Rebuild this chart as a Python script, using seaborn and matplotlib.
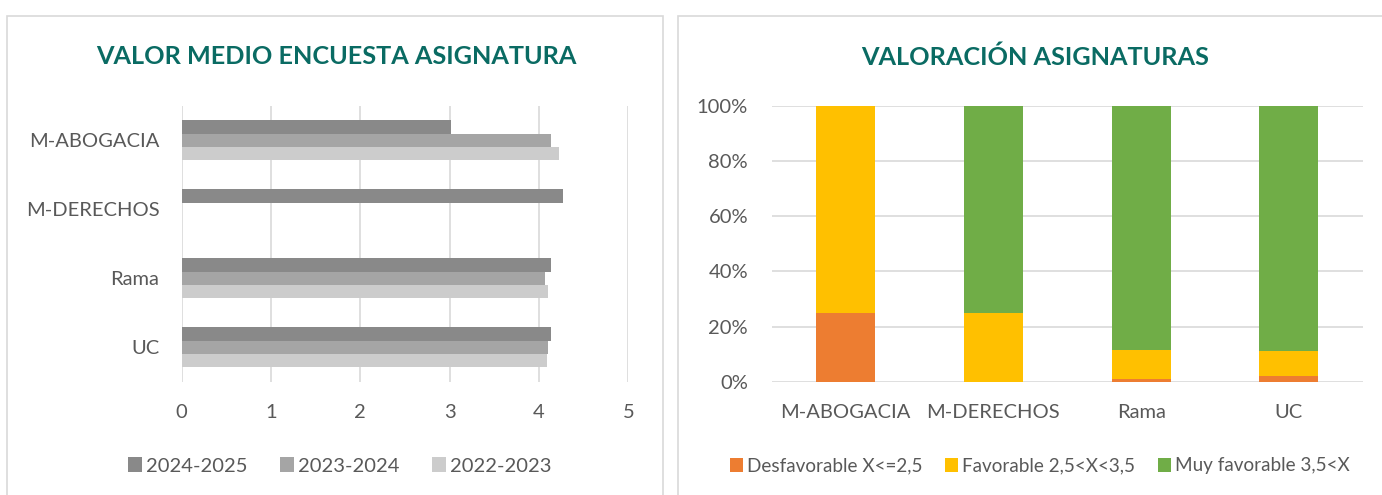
import numpy as np
import pandas as pd
import matplotlib
matplotlib.use("Agg")
import matplotlib.pyplot as plt
import seaborn as sns
from matplotlib.patches import Rectangle, Patch
from matplotlib.ticker import FuncFormatter

# ---------------- data ----------------
categories = ["M-ABOGACIA", "M-DERECHOS", "Rama", "UC"]
years = ["2024-2025", "2023-2024", "2022-2023"]
v_2024_2025 = [3.01, 4.27, 4.13, 4.13]
v_2023_2024 = [4.14, np.nan, 4.07, 4.10]
v_2022_2023 = [4.22, np.nan, 4.10, 4.09]
x_ticks = [0, 1, 2, 3, 4, 5]

ratings = ["Desfavorable X<=2,5", "Favorable 2,5<X<3,5", "Muy favorable 3,5<X"]
desfavorable = [25.0, 0.0, 0.9, 2.0]
favorable = [75.0, 25.0, 10.5, 9.0]
muy_favorable = [0.0, 75.0, 88.6, 89.0]
y_ticks = [0, 20, 40, 60, 80, 100]

title_left = "VALOR MEDIO ENCUESTA ASIGNATURA"
title_right = "VALORACIÓN ASIGNATURAS"

# ---------------- style ----------------
sns.set_theme(style="white")
plt.rcParams["font.family"] = ["Lato", "DejaVu Sans"]
TXT = "#595959"
GRID = "#d9d9d9"
TEAL = "#0a6b63"
grey_pal = ["#898989", "#a5a5a5", "#cccccc"]
rate_pal = ["#ed7d31", "#ffc000", "#70ad47"]

W, H = 1382, 495
fig = plt.figure(figsize=(W / 100, H / 100), dpi=100)
fig.patch.set_facecolor("white")

# panel frames
fig.add_artist(Rectangle((7 / W, -0.02), (663 - 7) / W, 1 - 16 / H + 0.02,
                         transform=fig.transFigure, facecolor="white",
                         edgecolor=GRID, lw=1.2, zorder=0))
fig.add_artist(Rectangle((678 / W, -0.02), (1395 - 678) / W, 1 - 16 / H + 0.02,
                         transform=fig.transFigure, facecolor="white",
                         edgecolor=GRID, lw=1.2, zorder=0))

# ---------------- left chart ----------------
df_left = pd.DataFrame({
    "cat": categories * 3,
    "year": [years[0]] * 4 + [years[1]] * 4 + [years[2]] * 4,
    "val": v_2024_2025 + v_2023_2024 + v_2022_2023,
}).dropna()

ax1 = fig.add_axes([181.7 / W, 1 - 381.7 / H, 446.6 / W, 276 / H])
sns.barplot(data=df_left, y="cat", x="val", hue="year", order=categories,
            hue_order=years, palette=grey_pal, orient="h", width=0.58,
            saturation=1, errorbar=None, legend=False, ax=ax1, zorder=3,
            linewidth=0, edgecolor="none")
ax1.set_xlim(0, 5)
ax1.set_ylim(3.5, -0.5)
ax1.set_xticks(x_ticks)
ax1.set_xlabel("")
ax1.set_ylabel("")
ax1.grid(axis="x", color=GRID, lw=1.2)
ax1.grid(axis="y", visible=False)
ax1.set_axisbelow(True)
for s in ax1.spines.values():
    s.set_visible(False)
ax1.tick_params(axis="both", length=0, labelsize=14.5, colors=TXT)
ax1.tick_params(axis="y", pad=16)
ax1.tick_params(axis="x", pad=16)
ax1.set_facecolor("none")

fig.text(336 / W, 1 - 57 / H, title_left, ha="center", va="center",
         fontsize=18.2, fontweight="bold", color=TEAL)

leg1 = [Patch(facecolor=c, edgecolor="none", label=y) for c, y in zip(grey_pal, years)]
fig.legend(handles=leg1, loc="center", bbox_to_anchor=(340 / W, 1 - 466 / H),
           ncol=3, frameon=False, fontsize=14.5, handlelength=0.7,
           handleheight=0.7, handletextpad=0.2, columnspacing=1.6,
           labelcolor=TXT)

# ---------------- right chart ----------------
cum1 = list(desfavorable)
cum2 = [a + b for a, b in zip(desfavorable, favorable)]
cum3 = [a + b + c for a, b, c in zip(desfavorable, favorable, muy_favorable)]

ax2 = fig.add_axes([771.7 / W, 1 - 381.7 / H, 591 / W, 276 / H])
for vals, col in zip([cum3, cum2, cum1], rate_pal[::-1]):
    sns.barplot(x=categories, y=vals, color=col, width=0.4, saturation=1,
                errorbar=None, ax=ax2, zorder=3, linewidth=0, edgecolor="none")
ax2.set_ylim(0, 100)
ax2.set_xlim(-0.5, 3.5)
ax2.set_yticks(y_ticks)
ax2.yaxis.set_major_formatter(FuncFormatter(lambda v, p: f"{int(v)}%"))
ax2.grid(axis="y", color=GRID, lw=1.2)
ax2.grid(axis="x", visible=False)
ax2.set_axisbelow(True)
for s in ax2.spines.values():
    s.set_visible(False)
ax2.tick_params(axis="both", length=0, labelsize=14.5, colors=TXT)
ax2.tick_params(axis="y", pad=17)
ax2.tick_params(axis="x", pad=16)
ax2.set_xlabel("")
ax2.set_ylabel("")
ax2.set_facecolor("none")

fig.text(1035 / W, 1 - 57 / H, title_right, ha="center", va="center",
         fontsize=18.2, fontweight="bold", color=TEAL)

leg2 = [Patch(facecolor=c, edgecolor="none", label=r) for c, r in zip(rate_pal, ratings)]
fig.legend(handles=leg2, loc="center", bbox_to_anchor=(1039.5 / W, 1 - 466 / H),
           ncol=3, frameon=False, fontsize=13.6, handlelength=0.7,
           handleheight=0.7, handletextpad=0.2, columnspacing=1.2,
           labelcolor=TXT)

fig.savefig("out.png", dpi=100, facecolor="white")
